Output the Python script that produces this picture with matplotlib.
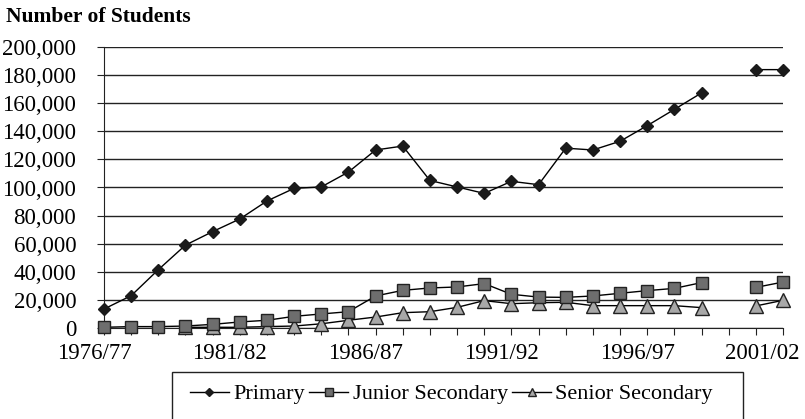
import matplotlib.pyplot as plt
import matplotlib.patches as patches
import matplotlib.transforms as mtransforms
import numpy as np

plt.rcParams['font.family'] = ['Liberation Serif', 'DejaVu Serif']

anos = [f'{y}/{(y + 1) % 100:02d}' for y in range(1976, 2002)]
nan = np.nan

primario = [13500, 23000, 41500, 59000, 68600, 77600, 90400, 99400, 100400, 111000,
            126700, 129500, 105000, 100400, 95800, 104400, 102000, 128000, 126700,
            132900, 144000, 155600, 167300, nan, 183900, 183900]
junior = [500, 1000, 1000, 1400, 2600, 4300, 5500, 8300, 10000, 11600,
          22800, 26800, 28500, 29200, 31600, 24000, 22000, 21800, 22800,
          24700, 26600, 28200, 32300, nan, 28900, 32700]
senior = [nan, nan, nan, 500, 500, 500, 1000, 1400, 3000, 5500,
          7800, 10900, 11600, 14700, 19500, 17300, 18000, 18300, 15900,
          15900, 15900, 15900, 14500, nan, 15700, 19700]

W, H = 805, 419
fig = plt.figure(figsize=(W/100, H/100), dpi=100)
ax = fig.add_axes([104/W, 1 - 328/H, 679/W, 281/H])

x = np.arange(len(anos))
ax.plot(x, primario, color='black', lw=1, marker='D', ms=6.5,
        mfc='#1a1a1a', mec='#1a1a1a', label='Primary', clip_on=False, zorder=5)
ax.plot(x, junior, color='black', lw=1, marker='s', ms=9,
        mfc='#6e6e6e', mec='#222222', mew=1, label='Junior Secondary', clip_on=False, zorder=4)
ax.plot(x, senior, color='black', lw=1, marker='^', ms=9.5,
        mfc='#a8a8a8', mec='#222222', mew=1, label='Senior Secondary', clip_on=False, zorder=3)

ax.set_xlim(0, len(anos) - 1)
ax.set_ylim(0, 200000)
ax.set_yticks(np.arange(0, 200001, 20000))
ax.set_yticklabels([f'{v:,}' for v in range(0, 200001, 20000)])
ax.set_xticks(x)
ax.set_xticklabels([a if i % 5 == 0 else '' for i, a in enumerate(anos)])
ax.grid(axis='y', color='#222222', lw=1)
ax.set_axisbelow(True)
for s in ['top', 'right']:
    ax.spines[s].set_visible(False)
ax.spines['left'].set_color('#222222')
ax.spines['bottom'].set_color('#222222')
ax.tick_params(axis='both', labelsize=16.5, color='#222222', length=5)
ax.tick_params(axis='x', pad=6)
ax.tick_params(axis='y', pad=15)

# os rótulos do eixo x ficam um pouco à esquerda das marcas
for i, lab in enumerate(ax.get_xticklabels()):
    dx = -21 if i == len(anos) - 1 else -10
    off = mtransforms.ScaledTranslation(dx/100, 0, fig.dpi_scale_trans)
    lab.set_transform(lab.get_transform() + off)

fig.text(6/W, 1 - 17/H, 'Number of Students', fontsize=15.5, fontweight='bold',
         va='center', ha='left')

leg = fig.legend(loc='center left', bbox_to_anchor=(172/W, 1 - 394/H), ncol=3,
                 frameon=False, fontsize=16, handlelength=1.75,
                 columnspacing=0.2, handletextpad=0.2, borderpad=0.3,
                 markerscale=0.6)
fig.patches.append(patches.Rectangle((172/W, -0.05), (743 - 172)/W, 0.05 + (H - 372)/H,
                                     transform=fig.transFigure, fill=False,
                                     edgecolor='#222222', lw=1))

fig.savefig('out.png', dpi=100)
